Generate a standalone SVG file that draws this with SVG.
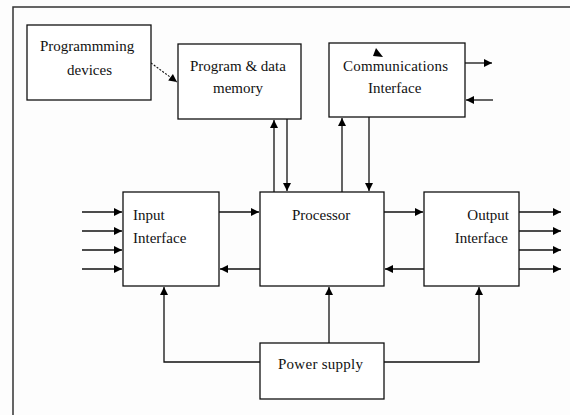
<svg xmlns="http://www.w3.org/2000/svg" width="570" height="415" viewBox="0 0 570 415">
<defs>
<marker id="ah" viewBox="0 0 10 10" refX="10" refY="5" markerWidth="9" markerHeight="8" markerUnits="userSpaceOnUse" orient="auto">
<path d="M0,0 L10,5 L0,10 Z" fill="#000"/>
</marker>
</defs>
<style>
.box{fill:#fff;stroke:#111;stroke-width:1.3}
.c{fill:none;stroke:#111;stroke-width:1.3;marker-end:url(#ah)}
text{font-family:"Liberation Serif","Times New Roman",serif;font-size:15px;fill:#111}
</style>
<rect width="570" height="415" fill="#fdfdfd"/>
<path d="M13,415 L13,7 L570,7" fill="none" stroke="#333" stroke-width="1.5"/>

<g id="connectors">
<path class="c" d="M151,63 L177,82" stroke-dasharray="2,1.5" style="stroke-width:1.1"/>
<path class="c" d="M274,192 L274,120"/>
<path class="c" d="M287,119 L287,191"/>
<path class="c" d="M342,192 L342,118"/>
<path class="c" d="M369,117 L369,191"/>
<path class="c" d="M465,63 L492,63"/>
<path class="c" d="M493,100 L466,100"/>
<path class="c" d="M82,212 L122,212"/>
<path class="c" d="M82,231 L122,231"/>
<path class="c" d="M82,250 L122,250"/>
<path class="c" d="M82,269 L122,269"/>
<path class="c" d="M219,212 L259,212"/>
<path class="c" d="M260,269 L220,269"/>
<path class="c" d="M384,212 L423,212"/>
<path class="c" d="M424,269 L385,269"/>
<path class="c" d="M519,212 L561,212"/>
<path class="c" d="M519,231 L561,231"/>
<path class="c" d="M519,250 L561,250"/>
<path class="c" d="M519,269 L561,269"/>
<path class="c" d="M329,343 L329,287"/>
<path class="c" d="M260,362 L164,362 L164,287"/>
<path class="c" d="M384,362 L479,362 L479,287"/>
</g>

<g id="programming-devices">
<rect class="box" x="27" y="25" width="124" height="75"/>
<text x="40" y="51">Programmming</text>
<text x="67" y="75">devices</text>
</g>

<g id="program-data-memory">
<rect class="box" x="178" y="44" width="123" height="75"/>
<text x="190" y="71">Program &amp; data</text>
<text x="213" y="93">memory</text>
</g>

<g id="communications-interface">
<rect class="box" x="329" y="43" width="136" height="74"/>
<polygon points="376,48 373,56 383,57" fill="#000"/>
<text x="343" y="71" textLength="105">Communications</text>
<text x="368" y="93">Interface</text>
</g>

<g id="input-interface">
<rect class="box" x="123" y="192" width="96" height="94"/>
<text x="133" y="220">Input</text>
<text x="133" y="243">Interface</text>
</g>

<g id="processor">
<rect class="box" x="260" y="192" width="124" height="94"/>
<text x="292" y="220">Processor</text>
</g>

<g id="output-interface">
<rect class="box" x="424" y="192" width="95" height="94"/>
<text x="509" y="220" text-anchor="end">Output</text>
<text x="508" y="243" text-anchor="end">Interface</text>
</g>

<g id="power-supply">
<rect class="box" x="260" y="343" width="124" height="56"/>
<text x="278" y="369" textLength="85">Power supply</text>
</g>
</svg>
